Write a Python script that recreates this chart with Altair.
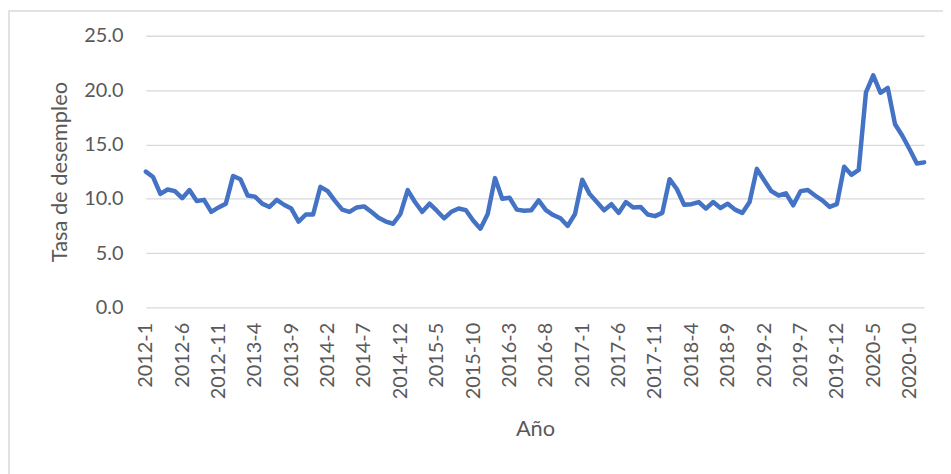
import altair as alt
import pandas as pd

years = list(range(2012, 2021))
months = list(range(1, 13))
periodos = [f"{y}-{m}" for y in years for m in months]

tasa = [
    12.5, 12.0, 10.45, 10.85, 10.7, 10.05, 10.8, 9.8, 9.9, 8.8, 9.2, 9.55,
    12.1, 11.8, 10.3, 10.2, 9.55, 9.25, 9.9, 9.45, 9.1, 7.9, 8.55, 8.55,
    11.1, 10.7, 9.8, 9.0, 8.8, 9.2, 9.3, 8.8, 8.25, 7.9, 7.7, 8.6,
    10.8, 9.7, 8.8, 9.55, 8.9, 8.2, 8.8, 9.1, 8.95, 8.0, 7.25, 8.6,
    11.9, 10.0, 10.1, 9.0, 8.9, 8.95, 9.85, 8.95, 8.5, 8.2, 7.5, 8.6,
    11.75, 10.45, 9.7, 8.95, 9.5, 8.7, 9.7, 9.2, 9.25, 8.55, 8.4, 8.7,
    11.8, 10.9, 9.45, 9.5, 9.7, 9.1, 9.7, 9.15, 9.55, 9.0, 8.7, 9.7,
    12.75, 11.7, 10.7, 10.3, 10.5, 9.4, 10.7, 10.8, 10.3, 9.85, 9.25, 9.5,
    12.95, 12.2, 12.65, 19.8, 21.35, 19.75, 20.2, 16.85, 15.8, 14.55, 13.25, 13.35,
]

tick_labels = periodos[::5]
y_ticks = [0, 5, 10, 15, 20, 25]

df = pd.DataFrame({"periodo": periodos, "tasa": tasa})

FONT = "Lato"
GRAY = "#595959"
W, H = 785, 274
PL, PT, PR, PB = 139, 26, 19, 166

line = alt.Chart(df).mark_line(
    color="#4472C4", strokeWidth=4.5, strokeJoin="round", strokeCap="round"
).encode(
    x=alt.X(
        "periodo:O",
        sort=periodos,
        scale=alt.Scale(type="point", padding=0),
        axis=alt.Axis(
            title="Año",
            values=tick_labels,
            labelAngle=-90,
            labelAlign="right",
            labelBaseline="middle",
            labelPadding=15,
            labelFont=FONT,
            labelFontSize=20,
            labelColor=GRAY,
            labelOverlap=False,
            domain=False,
            ticks=False,
            tickSize=0,
            grid=False,
            titleFont=FONT,
            titleFontSize=22,
            titleFontWeight="normal",
            titleColor=GRAY,
            titleY=122,
            titleBaseline="middle",
        ),
    ),
    y=alt.Y(
        "tasa:Q",
        scale=alt.Scale(domain=[0, 25], nice=False),
        axis=alt.Axis(
            title="Tasa de desempleo",
            values=y_ticks,
            format=".1f",
            labelFont=FONT,
            labelFontSize=20,
            labelColor=GRAY,
            labelPadding=23,
            domain=False,
            ticks=False,
            tickSize=0,
            grid=True,
            gridColor="#D9D9D9",
            gridWidth=1.3,
            titleFont=FONT,
            titleFontSize=22,
            titleFontWeight="normal",
            titleColor=GRAY,
            titleX=-87,
            titleY=H / 2,
            titleAlign="center",
            titleBaseline="middle",
        ),
    ),
)

frame = alt.Chart(pd.DataFrame({"a": [0]})).mark_rect(
    fill=None, stroke="#D9D9D9", strokeWidth=1.5, clip=False
).encode(
    x=alt.value(-PL + 1),
    x2=alt.value(W + PR + 20),
    y=alt.value(-PT + 1),
    y2=alt.value(H + PB + 20),
)

chart = alt.layer(frame, line).properties(
    width=W,
    height=H,
    padding={"left": PL, "top": PT, "right": PR, "bottom": PB},
    autosize=alt.AutoSizeParams(type="none"),
    background="white",
).configure_view(stroke=None)

chart.save("out.html", embed_options={"renderer": "svg", "actions": False})
